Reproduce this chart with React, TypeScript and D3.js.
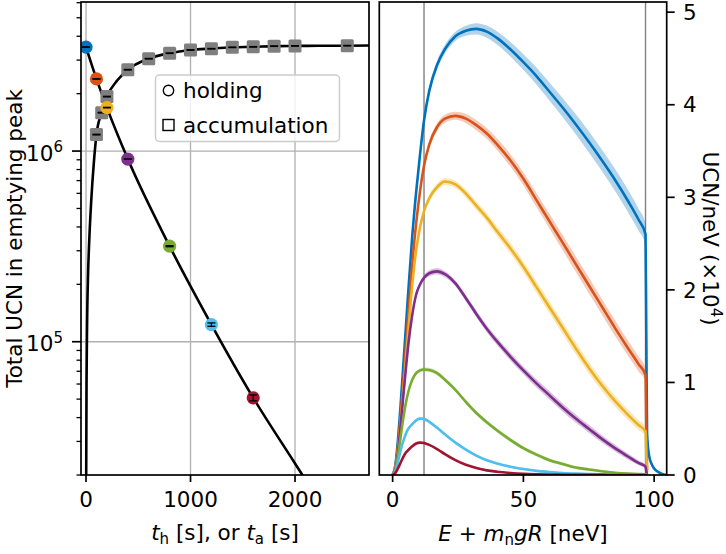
import { useEffect, useRef } from "react";
import * as d3 from "d3";

// Holding measurements (emptying peak totals)
const holdTimes = [0, 100, 200, 400, 800, 1200, 1600];
const holdCounts = [3.51e6, 2.39e6, 1.69e6, 9.08e5, 3.17e5, 1.23e5, 5.08e4];
const holdErrors = [8e3, 6e3, 5e3, 3e3, 2e3, 2.5e3, 1.8e3];
const holdColors = ["#0072bd", "#d95319", "#edb120", "#7e2f8e", "#77ac30", "#4dbeee", "#a2142f"];

// Holding fit curve
const holdFitTimes = [0, 100, 200, 400, 800, 1200, 1600, 2000, 2200];
const holdFitCounts = [3.51e6, 2.39e6, 1.69e6, 9.08e5, 3.17e5, 1.23e5, 5.08e4, 2.3e4, 1.55e4];

// Accumulation measurements
const accTimes = [100, 150, 200, 400, 600, 800, 1000, 1200, 1400, 1600, 1800, 2000, 2500];
const accCounts = [1.22e6, 1.59e6, 1.93e6, 2.67e6, 3.05e6, 3.26e6, 3.39e6, 3.44e6, 3.5e6, 3.52e6, 3.55e6, 3.56e6, 3.57e6];
const accErrors = [5e3, 6e3, 7e3, 9e3, 1e4, 1e4, 1.1e4, 1.1e4, 1.1e4, 1.1e4, 1.1e4, 1.1e4, 1.2e4];

// Accumulation fit curve
const accFitTimes = [1.5, 5, 10, 20, 30, 50, 75, 100, 150, 200, 300, 400, 600, 800, 1000, 1200, 1400, 1600, 1800, 2000, 2500, 2800];
const accFitCounts = [1.8e4, 6e4, 1.2e5, 2.3e5, 3.3e5, 5.5e5, 8.7e5, 1.22e6, 1.59e6, 1.93e6, 2.35e6, 2.67e6, 3.05e6, 3.26e6, 3.39e6, 3.45e6, 3.5e6, 3.52e6, 3.55e6, 3.56e6, 3.57e6, 3.58e6];

// Energy spectra (UCN/neV, x1e4) for each holding time
const energies = [0, 1, 2, 3, 4, 5, 6, 7.5, 9, 10.5, 12, 14, 17, 20, 24, 28, 32, 36, 40, 45, 50, 55, 60, 65, 70, 75, 80, 85, 90, 94, 96.7, 97, 97.3, 98, 99, 100, 102, 104.5];
const specT0 = [0, 0.1, 0.37, 0.74, 1.15, 1.57, 1.99, 2.58, 3.06, 3.47, 3.83, 4.15, 4.43, 4.6, 4.74, 4.8, 4.82, 4.79, 4.72, 4.6, 4.46, 4.31, 4.14, 3.97, 3.79, 3.6, 3.4, 3.19, 2.96, 2.76, 2.6, 1.5, 0.45, 0.22, 0.12, 0.07, 0.025, 0];
const specT100 = [0, 0.08, 0.3, 0.62, 0.98, 1.35, 1.74, 2.28, 2.72, 3.07, 3.34, 3.57, 3.76, 3.85, 3.88, 3.85, 3.78, 3.69, 3.57, 3.4, 3.2, 2.97, 2.74, 2.51, 2.28, 2.05, 1.82, 1.59, 1.37, 1.2, 1.08, 0.5, 0.05, null, null, null, null, null];
const specT200 = [0, 0.07, 0.26, 0.55, 0.88, 1.22, 1.56, 2.05, 2.43, 2.68, 2.85, 2.99, 3.11, 3.17, 3.14, 3.04, 2.91, 2.78, 2.63, 2.45, 2.25, 2.03, 1.81, 1.59, 1.37, 1.16, 0.97, 0.8, 0.65, 0.54, 0.47, 0.22, 0.03, null, null, null, null, null];
const specT400 = [0, 0.06, 0.24, 0.52, 0.83, 1.13, 1.41, 1.73, 1.95, 2.06, 2.13, 2.18, 2.2, 2.17, 2.07, 1.91, 1.74, 1.58, 1.44, 1.28, 1.13, 0.99, 0.86, 0.73, 0.61, 0.5, 0.39, 0.29, 0.2, 0.13, 0.09, 0.04, 0.005, null, null, null, null, null];
const specT800 = [0, 0.05, 0.2, 0.4, 0.6, 0.77, 0.9, 1.03, 1.1, 1.13, 1.14, 1.135, 1.1, 1.03, 0.92, 0.79, 0.67, 0.57, 0.48, 0.38, 0.29, 0.22, 0.16, 0.12, 0.08, 0.06, 0.04, 0.025, 0.015, 0.01, 0.008, 0.004, 0, null, null, null, null, null];
const specT1200 = [0, 0.04, 0.14, 0.26, 0.36, 0.44, 0.5, 0.55, 0.59, 0.61, 0.605, 0.575, 0.51, 0.44, 0.35, 0.275, 0.21, 0.16, 0.125, 0.09, 0.065, 0.045, 0.033, 0.022, 0.015, 0.01, 0.007, 0.004, 0.003, 0.002, 0.001, 0, 0, null, null, null, null, null];
const specT1600 = [0, 0.02, 0.07, 0.13, 0.19, 0.24, 0.27, 0.31, 0.34, 0.35, 0.345, 0.325, 0.28, 0.225, 0.16, 0.11, 0.075, 0.05, 0.035, 0.022, 0.013, 0.008, 0.005, 0.003, 0.002, 0.001, 0.001, 0, 0, 0, 0, 0, 0, null, null, null, null, null];
// counting uncertainty scale (band half-width = scale * sqrt(value))
const bandScale = [0.02, 0.02, 0.02, 0.02, 0.02, 0.02, 0.02, 0.02, 0.02, 0.02, 0.02, 0.022, 0.022, 0.022, 0.022, 0.025, 0.028, 0.03, 0.033, 0.037, 0.04, 0.044, 0.048, 0.052, 0.056, 0.06, 0.063, 0.067, 0.07, 0.072, 0.072, 0.072, 0.072, 0.072, 0.072, 0.072, 0.072, 0.072];
const spectra = [specT0, specT100, specT200, specT400, specT800, specT1200, specT1600];

const FONT = "DejaVu Sans";
const FS = 21.5;

export default function App() {
    const svgRef = useRef<SVGSVGElement>(null);

    useEffect(() => {
        const svg = d3.select(svgRef.current);
        svg.selectAll("*").remove();
        svg.attr("font-family", FONT).attr("font-size", FS);

        const L = { x0: 81, x1: 369, y0: 2, y1: 475 };
        const R = { x0: 379.3, x1: 666.7, y0: 2, y1: 475 };
        const tickW = 1.7;

        // ---------- left panel ----------
        const xL = d3.scaleLinear().domain([-48, 2708]).range([L.x0, L.x1]);
        const yL = d3.scaleLog().domain([2e4, 6.05e6]).range([L.y1, L.y0]);

        const defs = svg.append("defs");
        defs.append("clipPath").attr("id", "clipL").append("rect")
            .attr("x", L.x0).attr("y", L.y0).attr("width", L.x1 - L.x0).attr("height", L.y1 - L.y0);
        defs.append("clipPath").attr("id", "clipR").append("rect")
            .attr("x", R.x0).attr("y", R.y0).attr("width", R.x1 - R.x0).attr("height", R.y1 - R.y0);

        const gL = svg.append("g");

        // grid
        [0, 1000, 2000].forEach(t => {
            gL.append("line").attr("x1", xL(t)).attr("x2", xL(t)).attr("y1", L.y0).attr("y2", L.y1)
                .attr("stroke", "#b0b0b0").attr("stroke-width", 1.3);
        });
        [1e5, 1e6].forEach(v => {
            gL.append("line").attr("x1", L.x0).attr("x2", L.x1).attr("y1", yL(v)).attr("y2", yL(v))
                .attr("stroke", "#b0b0b0").attr("stroke-width", 1.3);
        });

        const plotL = gL.append("g").attr("clip-path", "url(#clipL)");
        const lineL = d3.line<[number, number]>()
            .x(d => xL(d[0])).y(d => yL(d[1])).curve(d3.curveMonotoneX);

        plotL.append("path")
            .attr("d", lineL(holdFitTimes.map((t, i) => [t, holdFitCounts[i]])))
            .attr("fill", "none").attr("stroke", "black").attr("stroke-width", 2.6);
        plotL.append("path")
            .attr("d", lineL(accFitTimes.map((t, i) => [t, accFitCounts[i]])))
            .attr("fill", "none").attr("stroke", "black").attr("stroke-width", 2.6);

        const errBar = (g: any, t: number, v: number, e: number) => {
            const x = xL(t);
            const ya = yL(v - e), yb = yL(v + e);
            g.append("line").attr("x1", x).attr("x2", x).attr("y1", ya).attr("y2", yb)
                .attr("stroke", "black").attr("stroke-width", 1.3);
            [ya, yb].forEach(y => {
                g.append("line").attr("x1", x - 4).attr("x2", x + 4).attr("y1", y).attr("y2", y)
                    .attr("stroke", "black").attr("stroke-width", 1.3);
            });
        };

        // accumulation squares
        accTimes.forEach((t, i) => {
            plotL.append("rect")
                .attr("x", xL(t) - 6.5).attr("y", yL(accCounts[i]) - 6.5)
                .attr("width", 13).attr("height", 13).attr("rx", 1.5)
                .attr("fill", "#7f7f7f");
            errBar(plotL, t, accCounts[i], accErrors[i]);
        });
        // holding circles
        holdTimes.forEach((t, i) => {
            plotL.append("circle")
                .attr("cx", xL(t)).attr("cy", yL(holdCounts[i])).attr("r", 6.6)
                .attr("fill", holdColors[i]);
            errBar(plotL, t, holdCounts[i], holdErrors[i]);
        });

        // spines
        gL.append("rect").attr("x", L.x0).attr("y", L.y0).attr("width", L.x1 - L.x0).attr("height", L.y1 - L.y0)
            .attr("fill", "none").attr("stroke", "black").attr("stroke-width", 1.7);

        // x ticks
        [0, 1000, 2000].forEach(t => {
            gL.append("line").attr("x1", xL(t)).attr("x2", xL(t)).attr("y1", L.y1).attr("y2", L.y1 + 7)
                .attr("stroke", "black").attr("stroke-width", tickW);
            gL.append("text").attr("x", xL(t)).attr("y", 506.5).attr("text-anchor", "middle").text(String(t));
        });
        // y ticks (log)
        const minorL: number[] = [];
        [1e4, 1e5, 1e6].forEach(dec => {
            for (let k = 2; k <= 9; k++) {
                const v = k * dec;
                if (v >= 2e4 && v <= 6.05e6) minorL.push(v);
            }
        });
        minorL.forEach(v => {
            gL.append("line").attr("x1", L.x0 - 4.5).attr("x2", L.x0).attr("y1", yL(v)).attr("y2", yL(v))
                .attr("stroke", "black").attr("stroke-width", 1.3);
        });
        [5, 6].forEach(p => {
            const y = yL(Math.pow(10, p));
            gL.append("line").attr("x1", L.x0 - 9).attr("x2", L.x0).attr("y1", y).attr("y2", y)
                .attr("stroke", "black").attr("stroke-width", tickW);
            const tx = gL.append("text").attr("x", 63).attr("y", y + 9.5).attr("text-anchor", "end");
            tx.append("tspan").text("10");
            tx.append("tspan").attr("dy", -8.5).attr("font-size", 15).text(String(p));
        });

        // axis labels
        gL.append("text").attr("transform", `translate(21.5,${(L.y0 + L.y1) / 2}) rotate(-90)`)
            .attr("text-anchor", "middle").text("Total UCN in emptying peak");
        const xlab = gL.append("text").attr("x", (L.x0 + L.x1) / 2).attr("y", 540).attr("text-anchor", "middle");
        xlab.append("tspan").attr("font-style", "italic").text("t");
        xlab.append("tspan").attr("font-size", 15).attr("dy", 4).text("h");
        xlab.append("tspan").attr("dy", -4).text(" [s], or ");
        xlab.append("tspan").attr("font-style", "italic").text("t");
        xlab.append("tspan").attr("font-size", 15).attr("dy", 4).text("a");
        xlab.append("tspan").attr("dy", -4).text(" [s]");

        // legend
        const lg = gL.append("g");
        lg.append("rect").attr("x", 155.5).attr("y", 75).attr("width", 184).attr("height", 66.5).attr("rx", 4)
            .attr("fill", "white").attr("fill-opacity", 0.8).attr("stroke", "#cccccc").attr("stroke-width", 1.5);
        lg.append("circle").attr("cx", 168.5).attr("cy", 90.5).attr("r", 5.2)
            .attr("fill", "white").attr("stroke", "black").attr("stroke-width", 1.4);
        lg.append("text").attr("x", 183).attr("y", 98).text("holding");
        lg.append("rect").attr("x", 163).attr("y", 119.5).attr("width", 11).attr("height", 11)
            .attr("fill", "white").attr("stroke", "black").attr("stroke-width", 1.4);
        lg.append("text").attr("x", 183).attr("y", 133).text("accumulation");

        // ---------- right panel ----------
        const xR = d3.scaleLinear().domain([-5.1, 104.8]).range([R.x0, R.x1]);
        const yR = d3.scaleLinear().domain([0, 5.11]).range([R.y1, R.y0]);
        const gR = svg.append("g");
        const plotR = gR.append("g").attr("clip-path", "url(#clipR)");

        [12, 96.7].forEach(e => {
            plotR.append("line").attr("x1", xR(e)).attr("x2", xR(e)).attr("y1", R.y0).attr("y2", R.y1)
                .attr("stroke", "#808080").attr("stroke-width", 1.4);
        });

        let spectraCur: (number | null)[] = [];
        const idx = energies.map((_, i) => i);
        const area = d3.area<number>()
            .defined(i => spectraCur[i] !== null)
            .x(i => xR(energies[i]))
            .y0(i => yR((spectraCur[i] as number) - bandScale[i] * Math.sqrt(spectraCur[i] as number)))
            .y1(i => yR((spectraCur[i] as number) + bandScale[i] * Math.sqrt(spectraCur[i] as number)))
            .curve(d3.curveMonotoneX);
        const line = d3.line<number>()
            .defined(i => spectraCur[i] !== null)
            .x(i => xR(energies[i]))
            .y(i => yR(spectraCur[i] as number))
            .curve(d3.curveMonotoneX);

        spectra.forEach((s, k) => {
            spectraCur = s;
            plotR.append("path").attr("d", area(idx))
                .attr("fill", holdColors[k]).attr("fill-opacity", 0.3);
        });
        spectra.forEach((s, k) => {
            spectraCur = s;
            plotR.append("path").attr("d", line(idx))
                .attr("fill", "none").attr("stroke", holdColors[k]).attr("stroke-width", 2.6);
        });

        gR.append("rect").attr("x", R.x0).attr("y", R.y0).attr("width", R.x1 - R.x0).attr("height", R.y1 - R.y0)
            .attr("fill", "none").attr("stroke", "black").attr("stroke-width", 1.7);

        [0, 50, 100].forEach(e => {
            gR.append("line").attr("x1", xR(e)).attr("x2", xR(e)).attr("y1", R.y1).attr("y2", R.y1 + 7)
                .attr("stroke", "black").attr("stroke-width", tickW);
            gR.append("text").attr("x", xR(e)).attr("y", 506.5).attr("text-anchor", "middle").text(String(e));
        });
        [0, 1, 2, 3, 4, 5].forEach(v => {
            gR.append("line").attr("x1", R.x1).attr("x2", R.x1 + 8).attr("y1", yR(v)).attr("y2", yR(v))
                .attr("stroke", "black").attr("stroke-width", tickW);
            gR.append("text").attr("x", 683).attr("y", yR(v)).attr("dy", "0.36em").text(String(v));
        });

        const xlabR = gR.append("text").attr("x", (R.x0 + R.x1) / 2).attr("y", 541).attr("text-anchor", "middle");
        xlabR.append("tspan").attr("font-style", "italic").text("E");
        xlabR.append("tspan").text(" + ");
        xlabR.append("tspan").attr("font-style", "italic").text("m");
        xlabR.append("tspan").attr("font-size", 15).attr("dy", 4).text("n");
        xlabR.append("tspan").attr("dy", -4).attr("font-style", "italic").text("gR");
        xlabR.append("tspan").text(" [neV]");

        const ylabR = gR.append("text").attr("transform", `translate(703,${(R.y0 + R.y1) / 2}) rotate(90)`)
            .attr("text-anchor", "middle");
        ylabR.append("tspan").text("UCN/neV (\u00d710");
        ylabR.append("tspan").attr("font-size", 15).attr("dy", -8).text("4");
        ylabR.append("tspan").attr("dy", 8).text(")");
    }, []);

    return (
        <svg ref={svgRef} width={726} height={554}
            style={{ position: "absolute", left: 0, top: 0, background: "white" }} />
    );
}
